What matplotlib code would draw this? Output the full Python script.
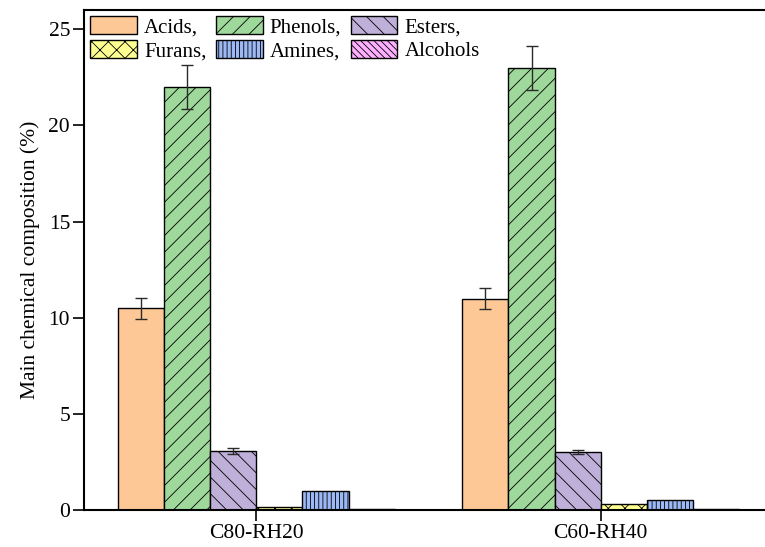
import numpy as np
import matplotlib.pyplot as plt

plt.rcParams['font.family'] = ['Liberation Serif', 'DejaVu Serif']
plt.rcParams['hatch.linewidth'] = 0.6
plt.rcParams['hatch.color'] = '#4a4a4a'

samples = ['C80-RH20', 'C60-RH40']
compounds = ['Acids', 'Phenols', 'Esters', 'Furans', 'Amines', 'Alcohols']
values = {
    'Acids': [10.5, 11.0],
    'Phenols': [22.0, 23.0],
    'Esters': [3.05, 3.0],
    'Furans': [0.15, 0.3],
    'Amines': [1.0, 0.5],
    'Alcohols': [0.05, 0.05],
}
errors = {
    'Acids': [0.55, 0.55],
    'Phenols': [1.12, 1.15],
    'Esters': [0.15, 0.1],
    'Furans': [0, 0],
    'Amines': [0, 0],
    'Alcohols': [0, 0],
}
colors = ['#FDC896', '#9ED89A', '#BFB0D9', '#FFFF91', '#9DB9F5', '#FEB0FE']
hatches = ['', '//', '\\\\', 'xx', '||||', '\\\\\\\\\\']

fig = plt.figure(figsize=(7.65, 5.47), dpi=100)
ax = fig.add_axes([0.1098, 0.0676, 0.9007, 0.914])

x = np.arange(1, len(samples) + 1)
width = 0.134
handles = []
for i, name in enumerate(compounds):
    pos = x + (i - 2.5) * width
    b = ax.bar(pos, values[name], width, color=colors[i], edgecolor='black',
               linewidth=1.0, hatch=hatches[i], label=name + ',' if name != 'Alcohols' else name)
    if any(errors[name]):
        ax.errorbar(pos, values[name], yerr=errors[name], fmt='none',
                    ecolor='#2a2a2a', elinewidth=1.0, capsize=4, capthick=1.0)
    handles.append(b)

ax.set_xlim(0.5, 2.5)
ax.set_ylim(0, 26)
ax.set_xticks(x)
ax.set_xticklabels(samples, fontsize=15.5)
ax.set_yticks([0, 5, 10, 15, 20, 25])
ax.tick_params(axis='both', direction='out', length=8, width=1.2, labelsize=15.5, pad=2)
ax.set_ylabel('Main chemical composition (%)', fontsize=15.5, labelpad=6)
for side in ['left', 'top', 'bottom', 'right']:
    ax.spines[side].set_linewidth(1.5)

# fill the legend row by row
order = [0, 3, 1, 4, 2, 5]
ax.legend([handles[k] for k in order], [handles[k].get_label() for k in order],
          ncol=3, loc='upper left', bbox_to_anchor=(0.0, 1.0), frameon=False,
          fontsize=15, handlelength=2.25, handleheight=0.95, columnspacing=0.45,
          handletextpad=0.33, labelspacing=0.12, borderaxespad=0.1, borderpad=0.2)

fig.savefig('out.png', dpi=100)
